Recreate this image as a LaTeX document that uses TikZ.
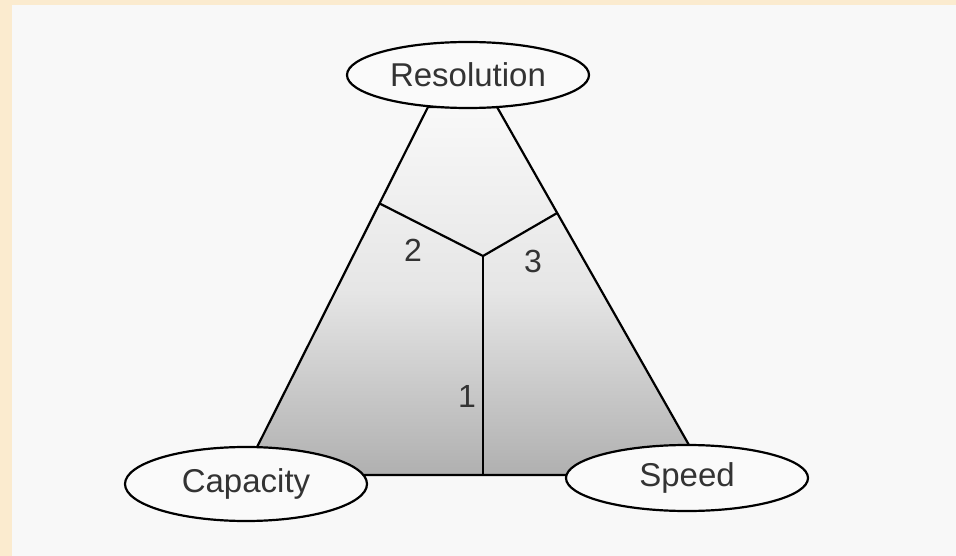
\documentclass[tikz,border=0pt]{standalone}
\usepackage{fontspec}
\setmainfont{Liberation Sans}
\usetikzlibrary{shapes.geometric,calc}
\definecolor{peach}{HTML}{FBEBCF}
\definecolor{paper}{HTML}{F8F8F8}
\definecolor{inkgray}{HTML}{333333}
\tikzset{
  oval/.style={ellipse, draw=black, line width=2.2pt, fill=white!96!gray,
    minimum width=242pt, minimum height=66pt, inner sep=0pt,
    font=\fontsize{33}{33}\selectfont, text=inkgray},
  edge/.style={draw=black, line width=2.2pt, line join=round},
  num/.style={font=\fontsize{32}{32}\selectfont, text=inkgray, inner sep=0pt}
}
\begin{document}
\begin{tikzpicture}[x=1pt,y=-1pt]
\useasboundingbox (0,0) rectangle (956,556);
\fill[peach] (0,0) rectangle (956,556);
\fill[paper] (12,5) rectangle (956,556);
% trapezoid corners
\coordinate (tl) at (428,107);
\coordinate (tr) at (497,107);
\coordinate (br) at (706,475);
\coordinate (bl) at (243,475);
\shade[top color=gray!5, bottom color=gray!62, middle color=gray!20]
  (tl) -- (tr) -- (br) -- (bl) -- cycle;
\draw[edge] (tl) -- (tr) -- (br) -- (bl) -- cycle;
% inner Y
\coordinate (lj) at ($(tl)!0.262!(bl)$);
\coordinate (rj) at ($(tr)!0.288!(br)$);
\coordinate (cj) at (483,256);
\coordinate (cb) at (483,475);
\draw[edge] (lj) -- (cj) -- (rj);
\draw[edge] (cj) -- (cb);
% labels
\node[num] (n2) at (413,250) {2};
\node[num] (n3) at (533,261) {3};
\node[num] (n1) at (467,396) {1};
% ellipses
\node[oval] (res) at (468,75) {Resolution};
\node[oval, minimum height=74pt] (cap) at (246,484) {Capacity};
\node[oval, minimum height=66pt] (spd) at (687,478) {Speed};
\end{tikzpicture}
\end{document}
